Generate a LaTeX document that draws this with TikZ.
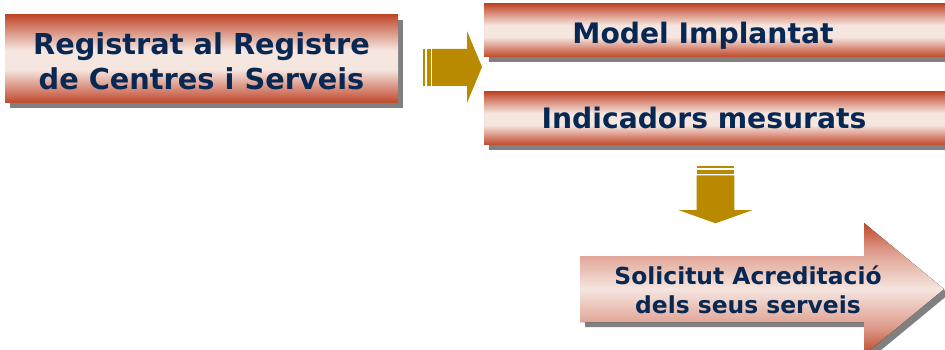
\documentclass[tikz,border=0pt]{standalone}
\usepackage{fontspec}
\setmainfont{DejaVu Sans}

\definecolor{barDark}{RGB}{190,72,40}
\definecolor{barMid}{RGB}{212,128,108}
\definecolor{barLight}{RGB}{246,230,224}
\definecolor{arrowGold}{RGB}{185,137,0}
\definecolor{textNavy}{RGB}{8,40,84}
\definecolor{shadowGray}{RGB}{128,128,128}

% glossy bar: dark rim top and bottom, light band in the middle
\pgfdeclareverticalshading{redbar}{100bp}{%
  color(0bp)=(barDark); color(25bp)=(barDark); color(32bp)=(barMid);
  color(44bp)=(barLight); color(55bp)=(barLight); color(68bp)=(barMid);
  color(75bp)=(barDark); color(100bp)=(barDark)}

% block arrow: red at the head tips, pale pink over the body
\pgfdeclareverticalshading{redarrow}{100bp}{%
  color(0bp)=(barDark); color(25bp)=(barDark); color(36bp)=(barMid!70!barLight);
  color(50bp)=(barLight); color(64bp)=(barMid!70!barLight);
  color(75bp)=(barDark); color(100bp)=(barDark)}

\tikzset{
  bar/.style={shading=redbar},
  dropshadow/.style={fill=shadowGray},
  goldarrow/.style={fill=arrowGold},
  bigarrow/.style={shading=redarrow},
  label/.style={text=textNavy, font=\bfseries, inner sep=0pt},
}

\begin{document}
\begin{tikzpicture}[x=1pt, y=-1pt]
  \useasboundingbox (0,0) rectangle (945,350);
  \clip (0,0) rectangle (945,350);

  % first bar: registration
  \fill[dropshadow] (10,20) rectangle (403,108);
  \fill[bar] (5,15) rectangle (398,103);
  \node[label, align=center, font=\bfseries\fontsize{28.8}{35}\selectfont]
    (registre) at (201.5,61) {Registrat al Registre\\de Centres i Serveis};

  % gold arrow pointing right
  \fill[goldarrow] (422.7,49) rectangle (425.3,86);
  \fill[goldarrow] (427.3,49) rectangle (430.7,86);
  \fill[goldarrow] (432,49) -- (467,49) -- (467,31) -- (482,67)
    -- (467,103) -- (467,86) -- (432,86) -- cycle;

  % two bars on the right
  \fill[dropshadow] (489,9) rectangle (955,62);
  \fill[bar] (484,4) rectangle (950,57);
  \node[label, anchor=base, font=\bfseries\fontsize{28.2}{34}\selectfont]
    (model) at (703,43.3) {Model Implantat};

  \fill[dropshadow] (489,97) rectangle (955,150);
  \fill[bar] (484,92) rectangle (950,145);
  \node[label, anchor=base, font=\bfseries\fontsize{28.2}{34}\selectfont]
    (indicadors) at (704,129) {Indicadors mesurats};

  % gold arrow pointing down
  \fill[goldarrow] (696.7,165.7) rectangle (734.3,167.7);
  \fill[goldarrow] (696.7,169.7) rectangle (734.3,174);
  \fill[goldarrow] (696.7,175.3) -- (734.3,175.3) -- (734.3,210)
    -- (752.7,210) -- (715.5,223.3) -- (678.3,210) -- (696.7,210) -- cycle;

  % big block arrow: application
  \fill[dropshadow] (585,261) -- (869,261) -- (869,228) -- (949,294)
    -- (869,360) -- (869,327) -- (585,327) -- cycle;
  \fill[bigarrow] (580,256) -- (864,256) -- (864,223) -- (944,289)
    -- (864,355) -- (864,322) -- (580,322) -- cycle;
  \node[label, align=center, font=\bfseries\fontsize{23.4}{29}\selectfont]
    (solicitut) at (748,289.5) {Solicitut Acreditació\\dels seus serveis};
\end{tikzpicture}
\end{document}
